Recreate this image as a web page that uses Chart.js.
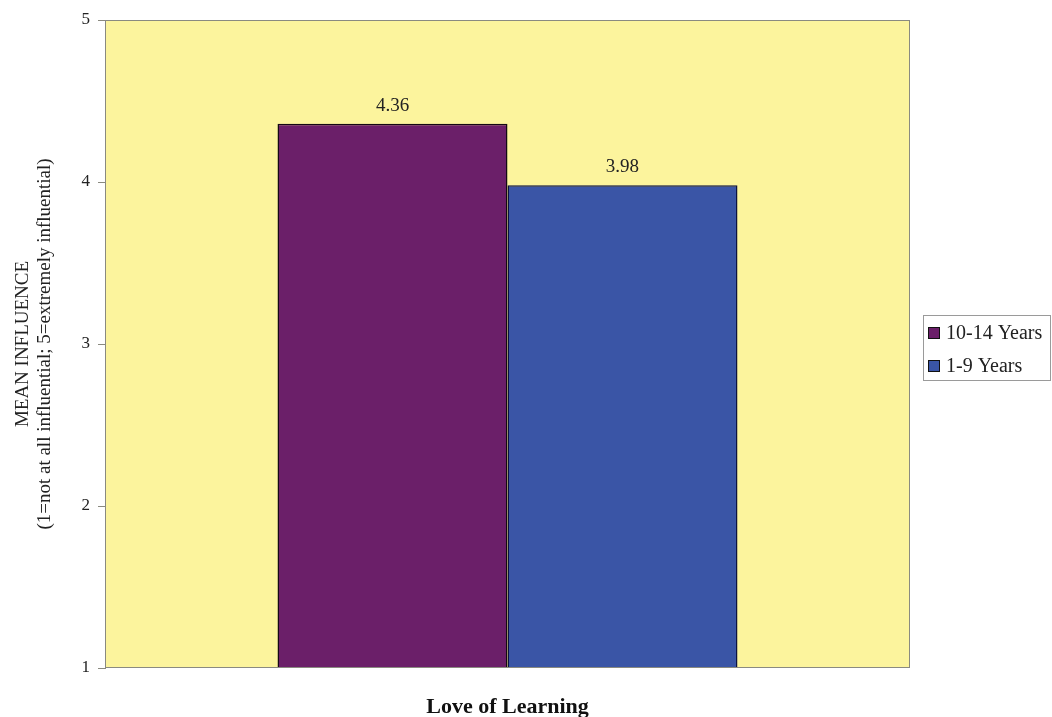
<!DOCTYPE html>
<html>
<head>
<meta charset="utf-8">
<script src="https://cdn.jsdelivr.net/npm/chart.js@4/dist/chart.umd.min.js"></script>
<style>
  html, body { margin: 0; padding: 0; background: #ffffff; }
  #wrap { width: 1052px; height: 717px; position: relative; }
</style>
</head>
<body>
<div id="wrap"><canvas id="chart" width="1052" height="717"></canvas></div>
<script>
// Categories, series and axis ticks
const categories = ["Love of Learning"];
const seriesNames = ["10-14 Years", "1-9 Years"];
const values1014 = [4.36];
const values19 = [3.98];
const yTicks = [1, 2, 3, 4, 5];
const yTitle = ["MEAN INFLUENCE", "(1=not at all influential; 5=extremely influential)"];

const colors = ["#6b1f69", "#3a55a6"];
const serif = "'Liberation Serif', 'Times New Roman', serif";

// Yellow plot background with a grey frame
const plotFrame = {
  id: "plotFrame",
  beforeDatasetsDraw(chart) {
    const { ctx, chartArea: a } = chart;
    ctx.save();
    ctx.fillStyle = "#fcf49d";
    ctx.fillRect(a.left, a.top, a.right - a.left, a.bottom - a.top);
    ctx.restore();
  },
  afterDatasetsDraw(chart) {
    const { ctx, chartArea: a } = chart;
    ctx.save();
    ctx.strokeStyle = "#8a8a80";
    ctx.lineWidth = 1;
    ctx.strokeRect(a.left + 0.5, a.top + 0.5, a.right - a.left - 1, a.bottom - a.top - 1);
    ctx.restore();
  }
};

// Value labels above each bar
const valueLabels = {
  id: "valueLabels",
  afterDatasetsDraw(chart) {
    const { ctx } = chart;
    ctx.save();
    ctx.font = "19px " + serif;
    ctx.fillStyle = "#222";
    ctx.textAlign = "center";
    ctx.textBaseline = "alphabetic";
    chart.data.datasets.forEach((ds, i) => {
      chart.getDatasetMeta(i).data.forEach((bar, j) => {
        ctx.fillText(ds.data[j].toFixed(2), bar.x, bar.y - 13);
      });
    });
    ctx.restore();
  }
};

// Boxed legend on the right
const boxLegend = {
  id: "boxLegend",
  afterDraw(chart) {
    const { ctx } = chart;
    const x = 923, y = 315, w = 127, h = 65;
    ctx.save();
    ctx.fillStyle = "#ffffff";
    ctx.fillRect(x, y, w, h);
    ctx.strokeStyle = "#9a9a9a";
    ctx.lineWidth = 1;
    ctx.strokeRect(x + 0.5, y + 0.5, w, h);
    ctx.font = "20px " + serif;
    ctx.textBaseline = "middle";
    ctx.textAlign = "left";
    chart.data.datasets.forEach((ds, i) => {
      const cy = y + 18 + i * 33;
      ctx.fillStyle = ds.backgroundColor;
      ctx.fillRect(x + 5, cy - 6, 12, 12);
      ctx.strokeStyle = "#111";
      ctx.strokeRect(x + 5.5, cy - 5.5, 11, 11);
      ctx.fillStyle = "#222";
      ctx.fillText(ds.label, x + 23, cy + 1);
    });
    ctx.restore();
  }
};

new Chart(document.getElementById("chart"), {
  type: "bar",
  data: {
    labels: categories,
    datasets: [
      { label: seriesNames[0], data: values1014, backgroundColor: colors[0], borderColor: "#140814", borderWidth: 1.5 },
      { label: seriesNames[1], data: values19, backgroundColor: colors[1], borderColor: "#0c1240", borderWidth: 1.5 }
    ]
  },
  options: {
    responsive: false,
    animation: false,
    layout: { padding: { top: 20, right: 142, left: 0, bottom: 0 } },
    datasets: { bar: { categoryPercentage: 0.5714, barPercentage: 1.0 } },
    plugins: { legend: { display: false }, tooltip: { enabled: false } },
    scales: {
      x: {
        grid: { display: false },
        border: { display: false },
        ticks: { color: "#111", font: { family: serif, size: 22, weight: "bold" }, padding: 18 },
        afterFit(scale) { scale.height = 49; }
      },
      y: {
        min: 1,
        max: 5,
        afterBuildTicks(scale) { scale.ticks = yTicks.map(v => ({ value: v })); },
        grid: { drawOnChartArea: false, drawTicks: true, tickLength: 7, color: "#8a8a80" },
        border: { display: true, color: "#8a8a80" },
        ticks: { color: "#222", font: { family: serif, size: 17 }, padding: 8 },
        title: {
          display: true,
          text: yTitle,
          color: "#222",
          font: { family: serif, size: 19, lineHeight: 1.16 },
          padding: { top: 12, bottom: 0 }
        },
        afterFit(scale) { scale.width = 105; }
      }
    }
  },
  plugins: [plotFrame, valueLabels, boxLegend]
});
</script>
</body>
</html>
